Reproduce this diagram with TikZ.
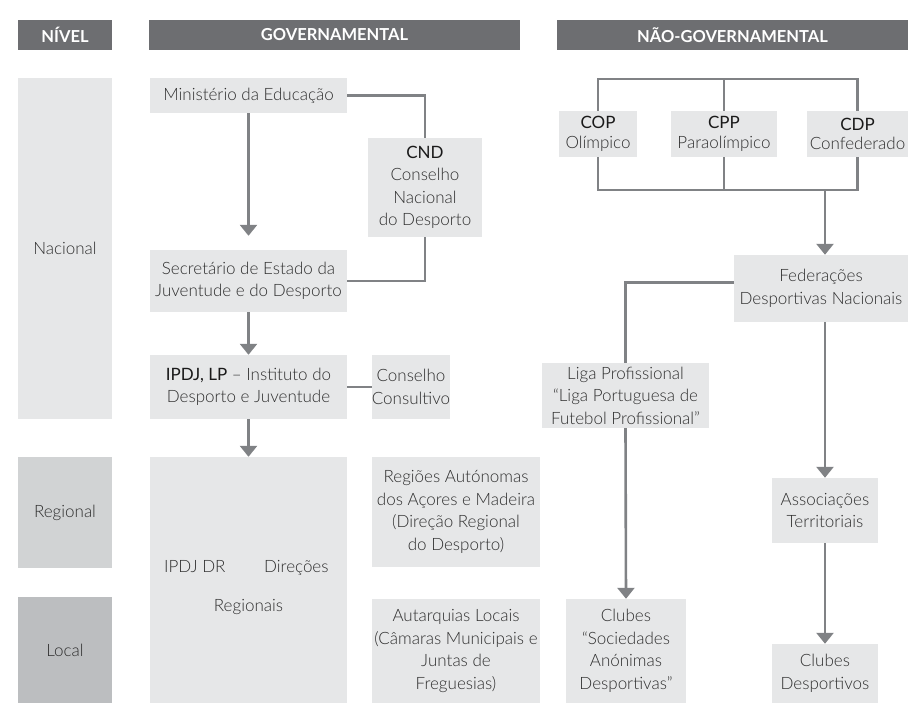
\documentclass[tikz,border=0pt]{standalone}
\usepackage{fontspec}
\IfFontExistsTF{Lato Light}{\setmainfont{Lato Light}}{\setmainfont{Lato}}
\newfontfamily\regfont{Lato}
\newfontfamily\hdrfont{Lato}
\usetikzlibrary{arrows.meta}
\definecolor{hdr}{HTML}{6D6E71}
\definecolor{boxc}{HTML}{E6E7E8}
\definecolor{lvr}{HTML}{D1D3D4}
\definecolor{lvl}{HTML}{BCBEC0}
\definecolor{ln}{HTML}{808285}
\definecolor{txt}{HTML}{2E2E2E}
\definecolor{dk}{HTML}{1A1A1A}
\begin{document}
\begin{tikzpicture}[x=1pt,y=-1pt,
  hdrbox/.style={fill=hdr, text=white, inner sep=0pt, font=\hdrfont\bfseries\fontsize{16.5}{18}\selectfont},
  box/.style={fill=boxc, text=txt, align=center, inner sep=0pt, font=\fontsize{17}{22.5}\selectfont},
  plain/.style={text=txt, inner sep=0pt, font=\fontsize{17}{22.5}\selectfont},
  conn/.style={draw=ln, line width=2.6pt},
  arr/.style={conn, -{Triangle[width=17pt,length=11pt]}}]
\useasboundingbox (0,0) rectangle (913,703);
% headers
\node[hdrbox, minimum width=94pt, minimum height=30pt] (hN) at (65,35) {NÍVEL};
\node[hdrbox, minimum width=371pt, minimum height=30pt] (hG) at (334.5,35) {GOVERNAMENTAL};
\node[hdrbox, minimum width=351pt, minimum height=30pt] (hNG) at (732.5,35) {NÃO-GOVERNAMENTAL};
% levels
\node[box, minimum width=94pt, minimum height=341pt] (lvN) at (65,248.5) {Nacional};
\node[box, fill=lvr, minimum width=94pt, minimum height=111pt] (lvR) at (65,512.5) {Regional};
\node[box, fill=lvl, minimum width=94pt, minimum height=106pt] (lvL) at (65,650) {Local};
% governmental
\node[box, minimum width=197pt, minimum height=35pt] (min) at (248.5,95.5) {Ministério da Educação};
\node[box, minimum width=114pt, minimum height=99pt] (cnd) at (425,187.5) {{\regfont\color{dk}CND}\\Conselho\\Nacional\\do Desporto};
\node[box, minimum width=197pt, minimum height=62pt] (sec) at (248.5,281) {Secretário de Estado da\\Juventude e do Desporto};
\node[box, minimum width=197pt, minimum height=64pt] (ipdj) at (248.5,387) {{\regfont\color{dk}IPDJ, LP} – Instituto do\\Desporto e Juventude};
\node[box, minimum width=78pt, minimum height=64pt] (cc) at (411,387) {Conselho\\Consultivo};
\node[box, minimum width=197pt, minimum height=246pt] (dr) at (248.5,580) {};
\node[plain, anchor=base west] (drA) at (164,572) {IPDJ DR};
\node[plain, anchor=base west] (drB) at (264,572) {Direções};
\node[plain, anchor=base] (drC) at (248.5,611) {Regionais};
\node[box, minimum width=168pt, minimum height=110pt] (reg) at (456,512) {Regiões Autónomas\\dos Açores e Madeira\\(Direção Regional\\do Desporto)};
\node[box, minimum width=168pt, minimum height=104pt] (aut) at (456,651) {Autarquias Locais\\(Câmaras Municipais e\\Juntas de\\Freguesias)};
% non-governmental
\node[box, minimum width=78pt, minimum height=46pt] (cop) at (598,134) {{\regfont\color{dk}COP}\\[-3pt]Olímpico};
\node[box, minimum width=106pt, minimum height=46pt] (cpp) at (724,134) {{\regfont\color{dk}CPP}\\[-3pt]Paraolímpico};
\node[box, minimum width=101pt, minimum height=46pt] (cdp) at (857.5,134) {{\regfont\color{dk}CDP}\\[-3pt]Confederado};
\node[box, minimum width=174pt, minimum height=67pt] (fed) at (821,288.5) {Federações\\Desportivas Nacionais};
\node[box, minimum width=167pt, minimum height=65pt] (liga) at (625.5,395.5) {Liga Profissional\\“Liga Portuguesa de\\Futebol Profissional”};
\node[box, minimum width=120pt, minimum height=104pt] (clsad) at (626,651) {Clubes\\“Sociedades\\Anónimas\\Desportivas”};
\node[box, minimum width=106pt, minimum height=65pt] (assoc) at (825,510.5) {Associações\\Territoriais};
\node[box, minimum width=106pt, minimum height=59pt] (clubd) at (825,673.5) {Clubes\\Desportivos};
% connectors governmental
\draw[arr, shorten >=14pt] (min.south) -- (sec.north);
\draw[conn] (min.east) -| (cnd.north);
\draw[conn] (cnd.south) |- (sec.east);
\draw[arr] (sec.south) -- (ipdj.north);
\draw[conn] (ipdj.east) -- (cc.west);
\draw[arr] (ipdj.south) -- (dr.north);
% connectors non-governmental
\coordinate (tl) at (0,79);
\coordinate (bl) at (0,190);
\draw[conn] (cop.north) -- (cop.north |- tl) -| (cdp.north);
\draw[conn] (cpp.north) -- (cpp.north |- tl);
\draw[conn] (cop.south) -- (cop.south |- bl) -| (cdp.south);
\draw[conn] (cpp.south) -- (cpp.south |- bl);
\draw[arr] (assoc.north |- bl) -- (assoc.north |- fed.north);
\draw[conn] ([yshift=6pt]fed.west) -| (liga.north);
\draw[arr] (liga.south) -- (clsad.north);
\draw[arr] (assoc.north |- fed.south) -- (assoc.north);
\draw[arr] (assoc.south) -- (clubd.north);
\end{tikzpicture}
\end{document}
